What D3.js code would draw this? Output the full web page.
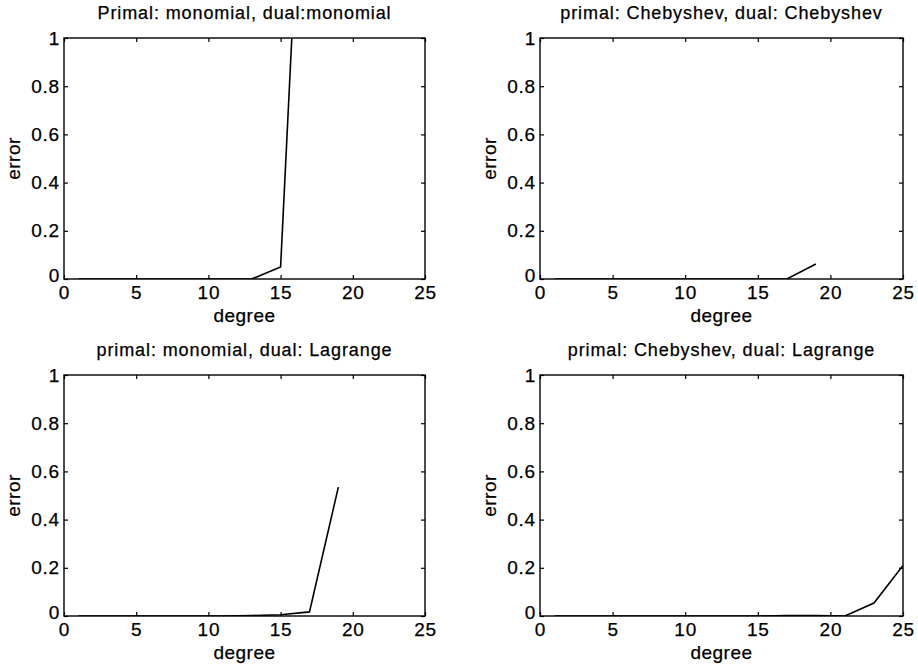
<!DOCTYPE html>
<html>
<head>
<meta charset="utf-8">
<script src="https://cdn.jsdelivr.net/npm/d3@7"></script>
<style>
body { margin: 0; background: #fff; }
text { font-family: "Liberation Sans", Arial, Helvetica, sans-serif; fill: #000; stroke: #000; stroke-width: 0.25px; }
</style>
</head>
<body>
<div id="chart"></div>
<script>
// error vs. polynomial degree for each primal/dual basis pairing
var degrees = [1, 3, 5, 7, 9, 11, 13, 15, 17, 19, 21, 23, 25];

var titles = [
    "Primal: monomial, dual:monomial",
    "primal: Chebyshev, dual: Chebyshev",
    "primal: monomial, dual: Lagrange",
    "primal: Chebyshev, dual: Lagrange"
];

// null = no value computed at that degree
var errMonoMono = [0, 0, 0, 0, 0, 0, 0, 0.05, 2.5, null, null, null, null];
var errChebCheb = [0, 0, 0, 0, 0, 0, 0, 0, 0, 0.062, null, null, null];
var errMonoLag  = [0, 0, 0, 0, 0, 0, 0.002, 0.005, 0.017, 0.535, null, null, null];
var errChebLag  = [0, 0, 0, 0, 0, 0, 0, 0, 0.002, 0.002, 0, 0.054, 0.21];

var xTicks = [0, 5, 10, 15, 20, 25];
var yTicks = [0, 0.2, 0.4, 0.6, 0.8, 1];

var width = 918, height = 665;

var panels = [
    {title: titles[0], values: errMonoMono, left: 64,  top: 38,  right: 425, bottom: 279},
    {title: titles[1], values: errChebCheb, left: 540, top: 38,  right: 903, bottom: 279},
    {title: titles[2], values: errMonoLag,  left: 64,  top: 375, right: 425, bottom: 616},
    {title: titles[3], values: errChebLag,  left: 540, top: 375, right: 903, bottom: 616}
];

var svg = d3.select("#chart")
.append("svg")
.attr("width", width)
.attr("height", height);

panels.forEach(function(p, i) {
    var x = d3.scaleLinear().domain([0, 25]).range([p.left, p.right]);
    var y = d3.scaleLinear().domain([0, 1]).range([p.bottom, p.top]);
    var g = svg.append("g");

    g.append("clipPath")
    .attr("id", "clip" + i)
    .append("rect")
    .attr("x", p.left)
    .attr("y", p.top)
    .attr("width", p.right - p.left)
    .attr("height", p.bottom - p.top);

    // data line
    var pts = degrees.map(function(d, k) { return {d: d, v: p.values[k]}; });
    var line = d3.line()
    .defined(function(q) { return q.v !== null; })
    .x(function(q) { return x(q.d); })
    .y(function(q) { return y(q.v); });

    g.append("path")
    .datum(pts)
    .attr("clip-path", "url(#clip" + i + ")")
    .attr("d", line)
    .attr("fill", "none")
    .attr("stroke", "#000")
    .attr("stroke-width", 1.6);

    // box
    g.append("rect")
    .attr("x", p.left)
    .attr("y", p.top)
    .attr("width", p.right - p.left)
    .attr("height", p.bottom - p.top)
    .attr("fill", "none")
    .attr("stroke", "#000")
    .attr("stroke-width", 1.4);

    // bottom/left axes with inward ticks, mirrored on top/right
    var xAxis = d3.axisBottom(x).tickValues(xTicks).tickSize(-4).tickPadding(7).tickFormat(d3.format("d"));
    var yAxis = d3.axisLeft(y).tickValues(yTicks).tickSize(-4).tickPadding(4).tickFormat(function(v) { return v === 0 || v === 1 ? String(v) : d3.format(".1f")(v); });

    var gx = g.append("g").attr("transform", "translate(0," + p.bottom + ")").call(xAxis);
    var gy = g.append("g").attr("transform", "translate(" + p.left + ",0)").call(yAxis);
    g.append("g").attr("transform", "translate(0," + p.top + ")")
    .call(d3.axisTop(x).tickValues(xTicks).tickSize(-4).tickFormat(""));
    g.append("g").attr("transform", "translate(" + p.right + ",0)")
    .call(d3.axisRight(y).tickValues(yTicks).tickSize(-4).tickFormat(""));

    g.selectAll(".domain").remove();
    g.selectAll(".tick line").attr("stroke", "#000").attr("stroke-width", 1.2);
    g.selectAll(".tick text")
    .style("font-size", "19px")
    .style("letter-spacing", "0.8px")
    .attr("fill", "#000");

    // the zero label sits slightly above the corner
    gy.selectAll(".tick text").filter(function(v) { return v === 0; }).attr("dy", "0.15em");

    g.append("text")
    .attr("x", (p.left + p.right) / 2)
    .attr("y", p.top - 19)
    .attr("text-anchor", "middle")
    .style("font-size", "18px")
    .style("letter-spacing", "0.9px")
    .text(p.title);

    g.append("text")
    .attr("x", (p.left + p.right) / 2)
    .attr("y", p.bottom + 43)
    .attr("text-anchor", "middle")
    .style("font-size", "19px")
    .style("letter-spacing", "0.5px")
    .text("degree");

    g.append("text")
    .attr("transform", "translate(" + (p.left - 44) + "," + ((p.top + p.bottom) / 2) + ") rotate(-90)")
    .attr("text-anchor", "middle")
    .style("font-size", "19px")
    .style("letter-spacing", "0.5px")
    .text("error");
});
</script>
</body>
</html>
